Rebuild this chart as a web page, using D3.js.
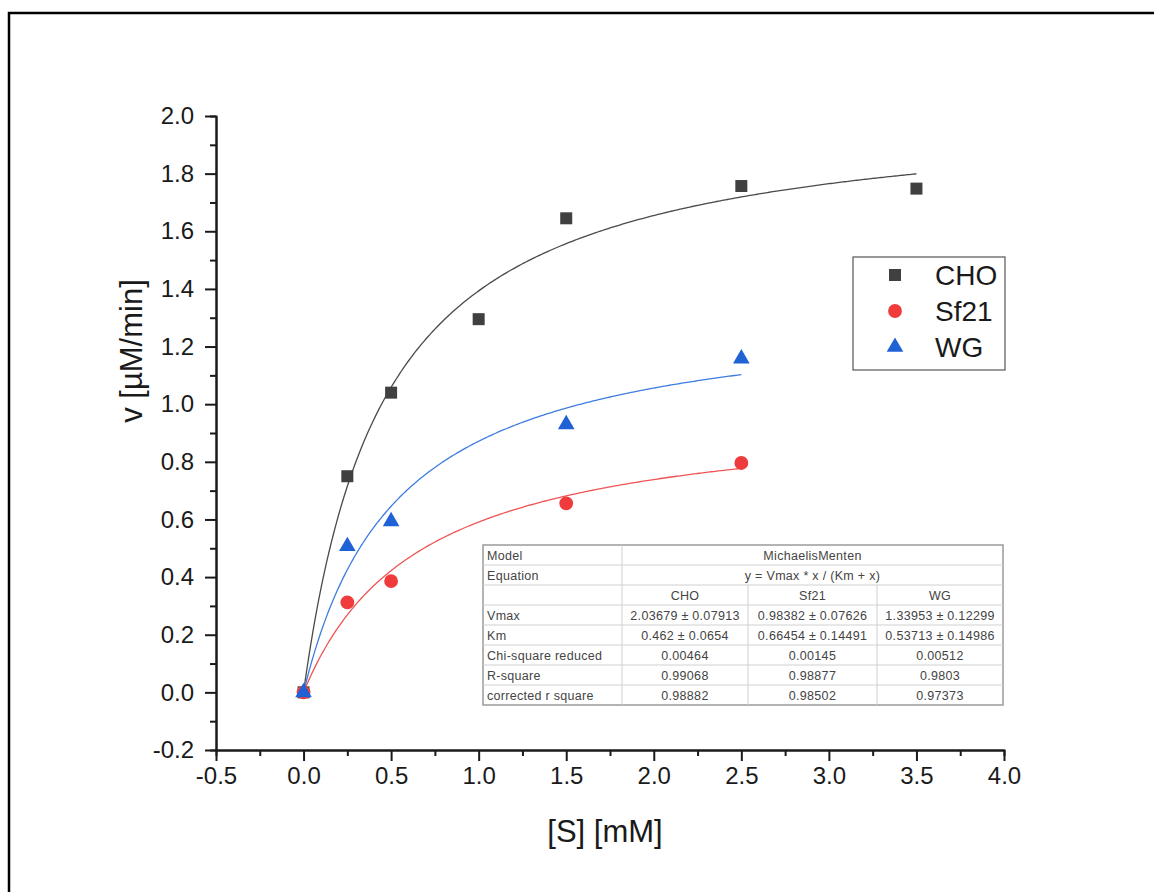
<!DOCTYPE html>
<html>
<head>
<meta charset="utf-8">
<script src="https://cdn.jsdelivr.net/npm/d3@7"></script>
<style>
  body { margin: 0; background: #fff; }
  svg { display: block; font-family: "Liberation Sans", Arial, sans-serif; }
</style>
</head>
<body>
<div id="chart"></div>
<script>
// measured points
var choS = [0, 0.25, 0.5, 1.0, 1.5, 2.5, 3.5];
var choV = [0, 0.75, 1.04, 1.295, 1.645, 1.757, 1.748];
var sf21S = [0, 0.25, 0.5, 1.5, 2.5];
var sf21V = [0, 0.312, 0.386, 0.656, 0.796];
var wgS = [0, 0.25, 0.5, 1.5, 2.5];
var wgV = [0, 0.507, 0.593, 0.93, 1.158];

// fit parameters (from the table)
var seriesNames = ["CHO", "Sf21", "WG"];
var vmax = [2.03679, 0.98382, 1.33953];
var km = [0.462, 0.66454, 0.53713];
var fitEnd = [3.5, 2.5, 2.5];

// ticks
var xTicks = [-0.5, 0, 0.5, 1.0, 1.5, 2.0, 2.5, 3.0, 3.5, 4.0];
var xMinor = [-0.25, 0.25, 0.75, 1.25, 1.75, 2.25, 2.75, 3.25, 3.75];
var yTicks = [-0.2, 0, 0.2, 0.4, 0.6, 0.8, 1.0, 1.2, 1.4, 1.6, 1.8, 2.0];
var yMinor = [-0.1, 0.1, 0.3, 0.5, 0.7, 0.9, 1.1, 1.3, 1.5, 1.7, 1.9];

// table
var tableHead = ["Model", "Equation", ""];
var tableTop = ["MichaelisMenten", "y = Vmax * x / (Km + x)"];
var rowLabels = ["Vmax", "Km", "Chi-square reduced", "R-square", "corrected r square"];
var choCol = ["2.03679 \u00b1 0.07913", "0.462 \u00b1 0.0654", "0.00464", "0.99068", "0.98882"];
var sf21Col = ["0.98382 \u00b1 0.07626", "0.66454 \u00b1 0.14491", "0.00145", "0.98877", "0.98502"];
var wgCol = ["1.33953 \u00b1 0.12299", "0.53713 \u00b1 0.14986", "0.00512", "0.9803", "0.97373"];

var W = 1154, H = 892;
var svg = d3.select("#chart").append("svg")
    .attr("width", W)
    .attr("height", H);

svg.append("rect").attr("width", W).attr("height", H).attr("fill", "#fff");

// outer frame (left + top only visible)
svg.append("path")
    .attr("d", "M9," + H + "V13H" + W)
    .attr("fill", "none")
    .attr("stroke", "#000")
    .attr("stroke-width", 2.5);

var x = d3.scaleLinear().domain([-0.5, 4.0]).range([216, 1004]);
var y = d3.scaleLinear().domain([-0.2, 2.0]).range([750, 116]);

var fmt = function(d) { return d.toFixed(1); };

// minor ticks
svg.append("g")
    .attr("class", "axis")
    .attr("transform", "translate(0,750)")
    .call(d3.axisBottom(x).tickValues(xMinor).tickSize(6).tickFormat(""));
svg.append("g")
    .attr("class", "axis")
    .attr("transform", "translate(216,0)")
    .call(d3.axisLeft(y).tickValues(yMinor).tickSize(6).tickFormat(""));

// major axes
svg.append("g")
    .attr("class", "axis")
    .attr("transform", "translate(0,750)")
    .call(d3.axisBottom(x).tickValues(xTicks).tickSize(11).tickSizeOuter(0).tickPadding(6).tickFormat(fmt));
svg.append("g")
    .attr("class", "axis")
    .attr("transform", "translate(216,0)")
    .call(d3.axisLeft(y).tickValues(yTicks).tickSize(11).tickSizeOuter(0).tickPadding(11).tickFormat(fmt));

svg.selectAll(".axis path, .axis line")
    .attr("stroke", "#1a1a1a")
    .attr("stroke-width", 2);
svg.selectAll(".axis text")
    .attr("fill", "#1a1a1a")
    .style("font-size", "24px")
    .style("font-family", "Liberation Sans, Arial, sans-serif");

// axis titles
svg.append("text")
    .attr("transform", "translate(142,351) rotate(-90)")
    .attr("text-anchor", "middle")
    .attr("fill", "#1a1a1a")
    .style("font-size", "31px")
    .text("v [\u00b5M/min]");

svg.append("text")
    .attr("x", 605)
    .attr("y", 842)
    .attr("text-anchor", "middle")
    .attr("fill", "#1a1a1a")
    .style("font-size", "31px")
    .text("[S] [mM]");

// fitted curves
var lineColors = ["#4a4a4a", "#ee5555", "#3f7de0"];
var markColors = ["#404040", "#ef3b3b", "#1f62d6"];
var line = d3.line().x(function(d) { return x(d[0]); }).y(function(d) { return y(d[1]); });

seriesNames.forEach(function(name, i) {
    var pts = d3.range(0, fitEnd[i] + 0.0001, 0.01).map(function(s) {
        return [s, vmax[i] * s / (km[i] + s)];
    });
    svg.append("path")
        .datum(pts)
        .attr("d", line)
        .attr("fill", "none")
        .attr("stroke", lineColors[i])
        .attr("stroke-width", 1.3);
});

// markers
var symbols = [d3.symbol().type(d3.symbolSquare).size(144),
               d3.symbol().type(d3.symbolCircle).size(150),
               d3.symbol().type(d3.symbolTriangle).size(120)];
var sets = [[choS, choV], [sf21S, sf21V], [wgS, wgV]];

sets.forEach(function(set, i) {
    svg.append("g").selectAll("path")
        .data(set[0])
      .enter().append("path")
        .attr("d", symbols[i])
        .attr("transform", function(d, j) { return "translate(" + x(d) + "," + y(set[1][j]) + ")"; })
        .attr("fill", markColors[i]);
});

// legend
var legend = svg.append("g");
legend.append("rect")
    .attr("x", 853).attr("y", 257)
    .attr("width", 152).attr("height", 113)
    .attr("fill", "#fff")
    .attr("stroke", "#555")
    .attr("stroke-width", 1.2);

seriesNames.forEach(function(name, i) {
    var cy = 275 + i * 36;
    legend.append("path")
        .attr("d", symbols[i])
        .attr("transform", "translate(895," + cy + ")")
        .attr("fill", markColors[i]);
    legend.append("text")
        .attr("x", 935)
        .attr("y", cy + 10)
        .attr("fill", "#1a1a1a")
        .style("font-size", "28px")
        .text(name);
});

// parameter table
var tx = 483, ty = 545, rh = 20;
var colW = [139, 126, 129, 126];
var colX = [tx];
colW.forEach(function(w, i) { colX.push(colX[i] + w); });
var tW = colX[4] - tx, tH = rh * 8;

var tbl = svg.append("g")
    .style("font-size", "12.5px")
    .style("letter-spacing", "0.3px")
    .attr("fill", "#444");
tbl.append("rect")
    .attr("x", tx).attr("y", ty)
    .attr("width", tW).attr("height", tH)
    .attr("fill", "#fff")
    .attr("stroke", "#9a9a9a")
    .attr("stroke-width", 1.5);

// horizontal lines
d3.range(1, 8).forEach(function(r) {
    tbl.append("line")
        .attr("x1", tx).attr("x2", tx + tW)
        .attr("y1", ty + r * rh).attr("y2", ty + r * rh)
        .attr("stroke", "#d0d0d0");
});
// vertical lines
tbl.append("line")
    .attr("x1", colX[1]).attr("x2", colX[1])
    .attr("y1", ty).attr("y2", ty + tH)
    .attr("stroke", "#d0d0d0");
[2, 3].forEach(function(c) {
    tbl.append("line")
        .attr("x1", colX[c]).attr("x2", colX[c])
        .attr("y1", ty + 2 * rh).attr("y2", ty + tH)
        .attr("stroke", "#d0d0d0");
});

var labels = tableHead.concat(rowLabels);
labels.forEach(function(t, r) {
    tbl.append("text")
        .attr("x", tx + 4)
        .attr("y", ty + r * rh + 14.5)
        .text(t);
});
tableTop.forEach(function(t, r) {
    tbl.append("text")
        .attr("x", (colX[1] + colX[4]) / 2)
        .attr("y", ty + r * rh + 14.5)
        .attr("text-anchor", "middle")
        .text(t);
});
var cols = [choCol, sf21Col, wgCol];
cols.forEach(function(col, c) {
    var cx = (colX[c + 1] + colX[c + 2]) / 2;
    tbl.append("text")
        .attr("x", cx)
        .attr("y", ty + 2 * rh + 14.5)
        .attr("text-anchor", "middle")
        .text(seriesNames[c]);
    col.forEach(function(t, r) {
        tbl.append("text")
            .attr("x", cx)
            .attr("y", ty + (r + 3) * rh + 14.5)
            .attr("text-anchor", "middle")
            .text(t);
    });
});
</script>
</body>
</html>
